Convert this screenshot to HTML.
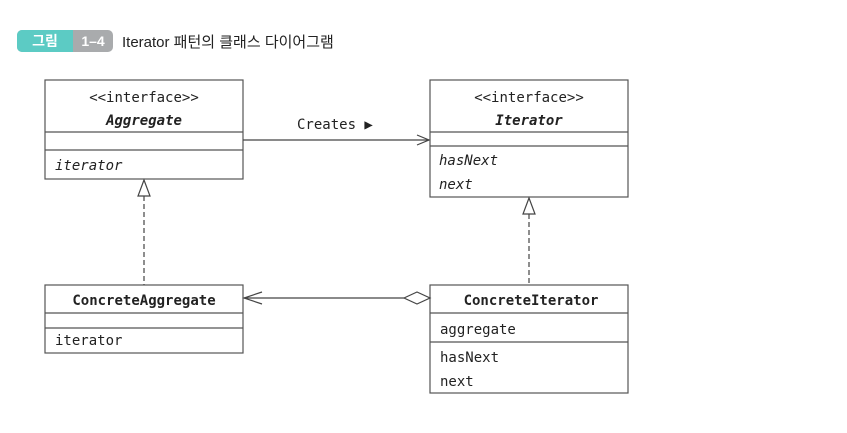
<!DOCTYPE html>
<html><head><meta charset="utf-8"><style>
body{margin:0;background:#fff}
svg text{font-family:"DejaVu Sans Mono","Liberation Mono",monospace;font-size:14px;fill:#222}
</style></head><body>
<svg width="847" height="428" viewBox="0 0 847 428" xmlns="http://www.w3.org/2000/svg">
<rect x="17" y="30" width="96" height="22" rx="5" fill="#a9abad"/>
<path d="M22 30H73V52H22A5 5 0 0 1 17 47V35A5 5 0 0 1 22 30Z" fill="#5ccbc4"/>
<text x="45" y="46" text-anchor="middle" style="font-family:'Noto Sans CJK KR',sans-serif;font-size:14px;font-weight:bold;fill:#fff">그림</text>
<text x="93" y="46" text-anchor="middle" style="font-family:'Liberation Sans',sans-serif;font-size:14px;font-weight:bold;fill:#fff">1–4</text>
<text x="122" y="47" style="font-family:'Liberation Sans','Noto Sans CJK KR',sans-serif;font-size:15px;fill:#222">Iterator 패턴의 클래스 다이어그램</text>
<g fill="#fff" stroke="#555" stroke-width="1.2">
<rect x="45" y="80" width="198" height="99"/><line x1="45" y1="132" x2="243" y2="132"/><line x1="45" y1="150" x2="243" y2="150"/>
<rect x="430" y="80" width="198" height="117"/><line x1="430" y1="132" x2="628" y2="132"/><line x1="430" y1="146" x2="628" y2="146"/>
<rect x="45" y="285" width="198" height="68"/><line x1="45" y1="313" x2="243" y2="313"/><line x1="45" y1="328" x2="243" y2="328"/>
<rect x="430" y="285" width="198" height="108"/><line x1="430" y1="313" x2="628" y2="313"/><line x1="430" y1="342" x2="628" y2="342"/>
</g>
<text x="144" y="102" text-anchor="middle">&lt;&lt;interface&gt;&gt;</text>
<text x="144" y="125" text-anchor="middle" font-style="italic" font-weight="bold">Aggregate</text>
<text x="55" y="170" font-style="italic">iterator</text>
<text x="529" y="102" text-anchor="middle">&lt;&lt;interface&gt;&gt;</text>
<text x="529" y="125" text-anchor="middle" font-style="italic" font-weight="bold">Iterator</text>
<text x="439" y="165" font-style="italic">hasNext</text>
<text x="439" y="189" font-style="italic">next</text>
<text x="144" y="305" text-anchor="middle" font-weight="bold">ConcreteAggregate</text>
<text x="55" y="345">iterator</text>
<text x="531" y="305" text-anchor="middle" font-weight="bold">ConcreteIterator</text>
<text x="440" y="334">aggregate</text>
<text x="440" y="362">hasNext</text>
<text x="440" y="386">next</text>
<text x="297" y="129">Creates ▶</text>
<g stroke="#444" stroke-width="1.2" fill="none">
<line x1="243" y1="140" x2="429" y2="140"/><polyline points="417,135 429,140 417,145"/>
<line x1="144" y1="196" x2="144" y2="285" stroke-dasharray="5,3"/><polygon points="144,180 138,196 150,196" fill="#fff"/>
<line x1="529" y1="214" x2="529" y2="285" stroke-dasharray="5,3"/><polygon points="529,198 523,214 535,214" fill="#fff"/>
<line x1="244" y1="298" x2="404" y2="298"/><polyline points="262,292 244,298 262,304"/>
<polygon points="404,298 417,292 430,298 417,304" fill="#fff"/>
</g>
</svg>
</body></html>
